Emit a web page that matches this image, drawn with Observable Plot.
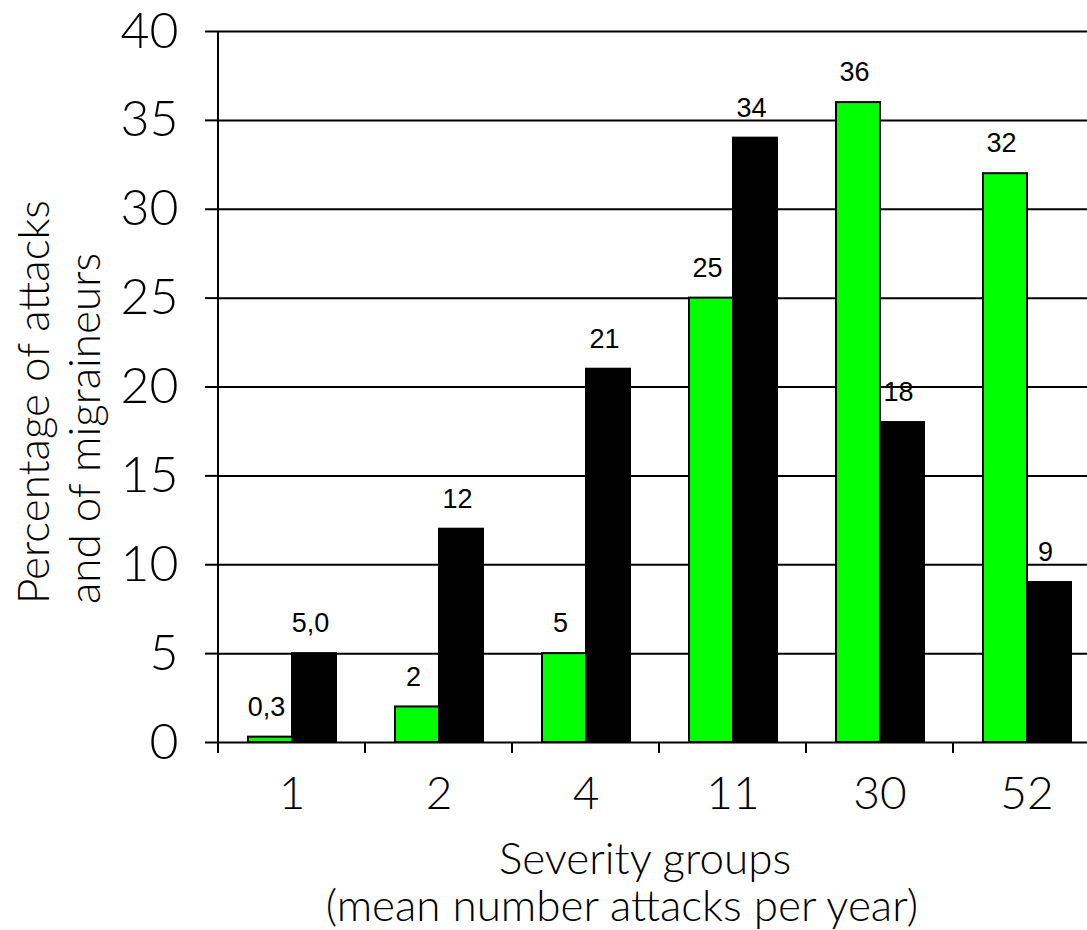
<!DOCTYPE html>
<html><head><meta charset="utf-8">
<script src="https://cdn.jsdelivr.net/npm/d3@7"></script>
<script src="https://cdn.jsdelivr.net/npm/@observablehq/plot@0.6"></script>
<style>
html,body{margin:0;padding:0;overflow:hidden;background:#fff;}
#wrap{position:relative;width:1087px;height:930px;overflow:hidden;}
.t{position:absolute;font-family:Lato,sans-serif;font-weight:300;font-size:44px;white-space:nowrap;color:#000;}
</style></head><body><div id="wrap"></div>
<script>
const groups = ["1","2","4","11","30","52"];
const attacks = [0.3, 2, 5, 25, 36, 32];
const migraineurs = [5, 12, 21, 34, 18, 9];
const attackLabels = ["0,3","2","5","25","36","32"];
const migraineurLabels = ["5,0","12","21","34","18","9"];
const yTicks = [0,5,10,15,20,25,30,35,40];
const seriesNames = ["attacks","migraineurs"];
const yTitle = ["Percentage of attacks","and of migraineurs"];
const xTitle = ["Severity groups","(mean number attacks per year)"];

const rows = groups.flatMap((g,i)=>[
  {group:g, series:"attacks", value:attacks[i], label:attackLabels[i]},
  {group:g, series:"migraineurs", value:migraineurs[i], label:migraineurLabels[i]}
]);

const plot = Plot.plot({
  width:1100, height:930, marginLeft:218, marginRight:0, marginTop:31, marginBottom:188,
  style:{fontFamily:"Lato, sans-serif", fontWeight:300, background:"white", color:"black"},
  fx:{domain:groups, padding:0, label:null},
  x:{domain:seriesNames, paddingInner:0, paddingOuter:0.67, axis:null},
  y:{domain:[0,40], label:null},
  color:{domain:seriesNames, range:["#00ff00","#000000"]},
  marks:[
    Plot.ruleY(yTicks,{stroke:"black", strokeWidth:2}),
    Plot.barY(rows,{fx:"group", x:"series", y:"value", fill:"series", stroke:"black", strokeWidth:2}),
    Plot.text(rows,{fx:"group", x:"series", y:"value", text:"label", dy:-30, dx:-4, fontSize:27, fontWeight:"normal", fontFamily:"Liberation Sans, Arial, sans-serif", fill:"black"}),
    Plot.axisY({ticks:yTicks, tickSize:13, tickPadding:27, fontSize:50, strokeWidth:2, label:null}),
    Plot.axisFx({anchor:"bottom", tickSize:0, tickPadding:34, fontSize:46, label:null})
  ]
});
plot.style.display = "block";
plot.style.maxWidth = "none";
plot.style.height = "930px";
document.getElementById("wrap").appendChild(plot);

// axis line and group-boundary ticks from the plot's own scales
const fx = plot.scale("fx"), y = plot.scale("y");
const g = d3.select(plot).append("g").attr("stroke","black").attr("stroke-width",2);
const y0 = y.apply(0), tickLen = 11;
g.append("line").attr("x1",fx.apply(groups[0])).attr("x2",fx.apply(groups[0]))
  .attr("y1",y.apply(40)).attr("y2",y0+tickLen);
groups.forEach(d=>{
  g.append("line").attr("x1",fx.apply(d)).attr("x2",fx.apply(d)).attr("y1",y0).attr("y2",y0+tickLen);
});

// titles
const wrap = document.getElementById("wrap");
const yt = document.createElement("div");
yt.className = "t";
yt.style.cssText = "left:7px;top:604px;transform-origin:0 0;transform:rotate(-90deg);line-height:51px;";
yt.innerHTML = yTitle.join("<br>");
wrap.appendChild(yt);
[[xTitle[0],645,835],[xTitle[1],622,882]].forEach(([s,cx,top])=>{
  const d = document.createElement("div");
  d.className = "t";
  d.style.cssText = `left:${cx}px;top:${top}px;transform:translateX(-50%);line-height:44px;`;
  d.textContent = s;
  wrap.appendChild(d);
});
</script></body></html>
